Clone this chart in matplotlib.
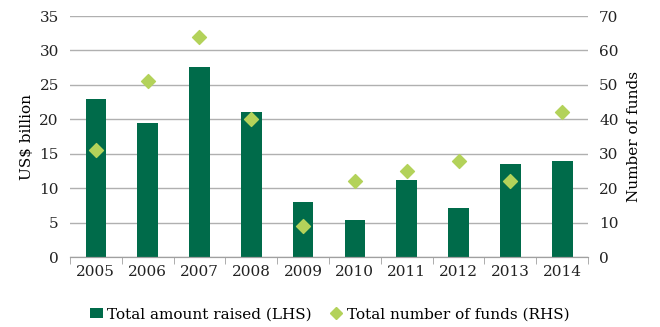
import numpy as np
import matplotlib.pyplot as plt
from matplotlib.lines import Line2D
from matplotlib.patches import Patch

years = ['2005', '2006', '2007', '2008', '2009', '2010', '2011', '2012', '2013', '2014']
amount_raised = [23.0, 19.4, 27.6, 21.0, 8.0, 5.4, 11.2, 7.1, 13.5, 13.9]
num_funds = [31, 51, 64, 40, 9, 22, 25, 28, 22, 42]

bar_color = '#006B4A'
dot_color = '#B3D25A'
grid_color = '#B0B0B0'

plt.rcParams['font.family'] = ['DejaVu Serif']
plt.rcParams['font.size'] = 11

fig = plt.figure(figsize=(6.6, 3.27), dpi=100)
ax = fig.add_axes([0.106, 0.214, 0.785, 0.737])
ax2 = ax.twinx()

x = np.arange(len(years))
ax.bar(x, amount_raised, width=0.4, color=bar_color, zorder=2)
ax2.scatter(x, num_funds, marker='D', s=50, color=dot_color, zorder=3)

ax.set_xlim(-0.5, len(years) - 0.5)
ax.set_ylim(0, 35)
ax.set_yticks(range(0, 36, 5))
ax2.set_ylim(0, 70)
ax2.set_yticks(range(0, 71, 10))

ax.yaxis.grid(True, color=grid_color, linewidth=1, zorder=0)
ax.set_axisbelow(True)

for a in (ax, ax2):
    for s in ('top', 'left', 'right'):
        a.spines[s].set_visible(False)
    a.spines['bottom'].set_color('#A0A0A0')
    a.tick_params(axis='y', length=0, pad=8, colors='#222222')

ax.set_xticks(x)
ax.set_xticklabels(years)
ax.set_xticks(np.arange(-0.5, len(years)), minor=True)
ax.tick_params(axis='x', which='major', length=0, pad=6, colors='#222222')
ax.tick_params(axis='x', which='minor', length=5, color='#A0A0A0', direction='out')

ax.set_ylabel('US$ billion', labelpad=4)
ax2.set_ylabel('Number of funds', labelpad=6)

handles = [Patch(facecolor=bar_color, label='Total amount raised (LHS)'),
           Line2D([], [], marker='D', linestyle='none', color=dot_color, markersize=6,
                  label='Total number of funds (RHS)')]
fig.legend(handles=handles, loc='lower center', ncol=2, frameon=False,
           bbox_to_anchor=(0.5, -0.025), handlelength=0.8, handletextpad=0.3,
           columnspacing=1.2)

fig.savefig('out.png', dpi=100)
